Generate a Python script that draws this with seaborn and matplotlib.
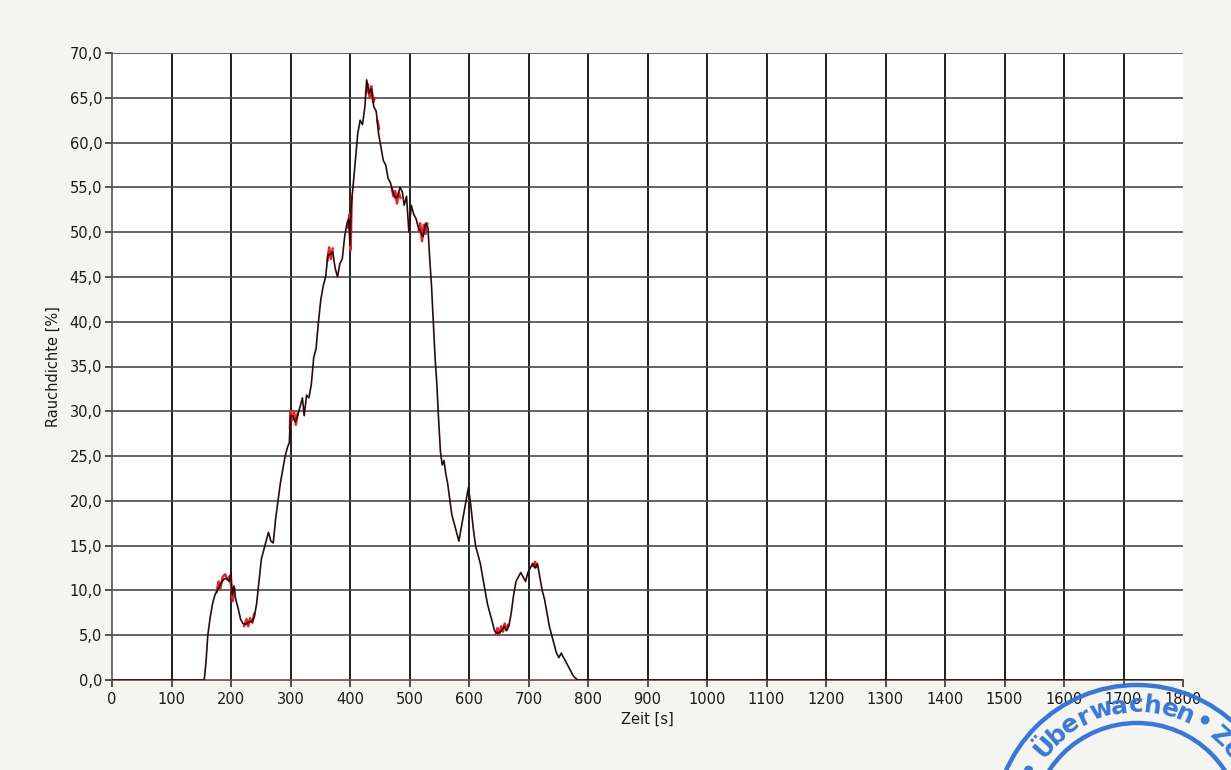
import numpy as np
import pandas as pd
import matplotlib
matplotlib.use("Agg")
import matplotlib.pyplot as plt
import seaborn as sns
from matplotlib.patches import Circle
from matplotlib.ticker import FuncFormatter

# ---- data ----
time_s = [0, 155, 158, 161, 165, 169, 173, 177, 181, 185, 189, 193, 197, 200, 202, 205, 208, 212,
          216, 220, 225, 230, 235, 239, 243, 247, 251, 255, 259, 263, 267, 271, 275, 279, 283, 287,
          291, 295, 298, 300, 304, 308, 312, 316, 320, 323, 327, 331, 335, 339, 343, 347, 351, 355,
          359, 363, 367, 371, 375, 379, 383, 387, 391, 395, 398, 400, 402, 405, 409, 413, 417, 421,
          425, 428, 432, 436, 440, 444, 448, 452, 456, 460, 464, 468, 472, 476, 480, 484, 488, 491,
          495, 499, 503, 507, 511, 515, 519, 523, 527, 531, 534, 537, 540, 543, 546, 549, 552, 555,
          558, 561, 564, 567, 571, 575, 579, 583, 587, 591, 595, 599, 603, 607, 611, 615, 619, 623,
          627, 631, 635, 639, 643, 647, 651, 655, 659, 663, 667, 671, 675, 679, 683, 687, 691, 695,
          699, 703, 707, 711, 715, 719, 723, 727, 731, 735, 739, 743, 747, 751, 755, 759, 763, 767,
          771, 775, 779, 783, 1800]
density = [0, 0, 2, 5, 7, 8.5, 9.5, 10, 10.5, 11, 11.3, 11.3, 11, 12, 9.5, 10.5, 9, 8,
           6.8, 6.3, 6.2, 6.5, 6.5, 7, 8.5, 11, 13.5, 14.5, 15.5, 16.5, 15.5, 15.3, 18, 20, 22, 23.5,
           25, 26, 26.5, 29.5, 29.5, 28.8, 29.5, 30.5, 31.5, 29.5, 31.8, 31.5, 33, 36, 37, 40, 42.5, 44,
           45, 47.5, 47.5, 47.8, 46, 45, 46.5, 47, 49.5, 51, 51.5, 48.5, 53, 55, 58, 61, 62.5, 62,
           64, 67, 65.5, 66, 64, 63.5, 61, 59.5, 58, 57.5, 56, 55.5, 54.5, 53.8, 54, 55, 54.5, 53,
           54, 50, 53, 52, 51.5, 50.5, 50, 49.5, 51, 50.5, 47, 44, 40, 36, 33, 29, 25.5, 24,
           24.5, 23, 22, 20.5, 18.5, 17.5, 16.5, 15.5, 17, 18.5, 20, 21.5, 19.5, 17, 15, 14, 13, 11.5,
           10, 8.5, 7.5, 6.5, 5.5, 5.2, 5.3, 5.5, 6, 5.5, 6, 7.5, 9.5, 11, 11.5, 12, 11.5, 11,
           12, 12.5, 13, 12.5, 13, 11.5, 10, 9, 7.5, 6, 5, 4, 3, 2.5, 3, 2.5, 2, 1.5,
           1, 0.5, 0.2, 0, 0]

# red raw-signal segments that show beside the dark curve
red_seg = ["A"] * 10 + ["B"] * 6 + ["C"] * 6 + ["D"] * 4 + ["E"] * 4 + ["F"] * 6 + ["G"] * 2 + \
          ["H1"] * 6 + ["H2"] * 6 + ["I"] * 8 + ["J"] * 3
red_time = [176, 179, 182, 186, 190, 194, 198, 201, 203, 206,
            222, 226, 229, 232, 236, 239,
            299, 300, 303, 306, 309, 312,
            362, 365, 368, 371,
            396, 399, 401, 403,
            427, 430, 433, 436, 439, 442,
            446, 449,
            470, 473, 476, 479, 482, 485,
            515, 518, 521, 524, 527, 530,
            645, 648, 651, 654, 657, 660, 663, 666,
            708, 711, 714]
red_density = [9.8, 11, 10.2, 11.5, 11.8, 11.2, 11.6, 10, 8.8, 10.2,
               6.0, 6.8, 6.0, 6.9, 6.4, 7.4,
               28, 30, 29, 30, 28.5, 29.8,
               46.8, 48.3, 47, 48.2,
               50.5, 52, 48, 54,
               65.5, 66.5, 65, 66.3, 64.5, 65,
               62.5, 61.5,
               55.0, 54.0, 54.6, 53.2, 54.4, 53.8,
               50, 51, 49, 50.8, 49.8, 51,
               5.2, 5.8, 5.0, 6.0, 5.4, 6.3, 5.6, 6.2,
               12.7, 13.2, 12.6]

x_ticks = list(range(0, 1801, 100))
y_ticks = list(range(0, 71, 5))
x_label = "Zeit [s]"
y_label = "Rauchdichte [%]"
stamp_chars = ["•", "Ü", "b", "e", "r", "w", "a", "c", "h", "e", "n", "•", "Z", "e"]

# ---- figure ----
sns.set_theme(style="white")
plt.rcParams['font.family'] = ['DejaVu Sans']

fig = plt.figure(figsize=(12.31, 7.70), dpi=100)
fig.patch.set_facecolor("#f4f4f1")
ax = fig.add_axes([112 / 1231, 1 - 680 / 770, (1183 - 112) / 1231, (680 - 53) / 770])
ax.set_facecolor("white")

df = pd.DataFrame({"t": time_s, "y": density})
dfr = pd.DataFrame({"t": red_time, "y": red_density, "seg": red_seg})

sns.lineplot(data=dfr, x="t", y="y", units="seg", estimator=None, ax=ax,
             color="#e8222c", linewidth=1.8, zorder=3, legend=False)
sns.lineplot(data=df, x="t", y="y", estimator=None, ax=ax,
             color="#2a0c0c", linewidth=1.2, zorder=4, legend=False)

ax.set_xlim(0, 1800)
ax.set_ylim(0, 70)
ax.set_xticks(x_ticks)
ax.set_yticks(y_ticks)
ax.yaxis.set_major_formatter(FuncFormatter(lambda v, p: f"{v:.1f}".replace(".", ",")))

for v in x_ticks[1:-1]:
    ax.axvline(v, color="#1e1e1e", linewidth=1.4, zorder=1)
for v in y_ticks[1:]:
    ax.axhline(v, color="#4a4a4a", linewidth=1.2, zorder=1)

for s in ["top", "right"]:
    ax.spines[s].set_visible(False)
ax.spines["left"].set_color("#555555")
ax.spines["left"].set_linewidth(1.2)
ax.spines["bottom"].set_color("#6a4a4a")
ax.spines["bottom"].set_linewidth(1.2)

ax.tick_params(axis="x", pad=4)
ax.tick_params(axis="both", which="major", direction="out", length=5, width=1.2,
               color="#333333", labelsize=10.5, labelcolor="#1a1a1a",
               bottom=True, left=True)
ax.tick_params(axis="y", pad=2)
ax.set_xlabel(x_label, fontsize=10.5, color="#1a1a1a", labelpad=3)
ax.set_ylabel(y_label, fontsize=10.5, color="#1a1a1a", labelpad=6)

# ---- stamp overlay ----
ov = fig.add_axes([0, 0, 1, 1], zorder=10)
ov.set_xlim(0, 1231)
ov.set_ylim(770, 0)
ov.axis("off")
ov.patch.set_alpha(0)
cx, cy = 1137, 828
stamp_col = "#2f72d4"
ov.add_patch(Circle((cx, cy), 143, fill=False, edgecolor=stamp_col, linewidth=3.2, alpha=0.95))
ov.add_patch(Circle((cx, cy), 105, fill=False, edgecolor=stamp_col, linewidth=3.2, alpha=0.95))
ang_map = [151, 138.5, 130.5, 123, 115.5, 107, 98.5, 90.5, 82.5, 74.5, 67, 58, 47.5, 39.5]
r_txt = 123
for ch, a in zip(stamp_chars, ang_map):
    th = np.deg2rad(a)
    ov.text(cx + r_txt * np.cos(th), cy - r_txt * np.sin(th), ch, rotation=a - 90,
            ha="center", va="center", fontsize=18, fontweight="bold", color=stamp_col,
            rotation_mode="anchor", alpha=0.95)

fig.savefig("out.png", dpi=100, facecolor=fig.get_facecolor())
